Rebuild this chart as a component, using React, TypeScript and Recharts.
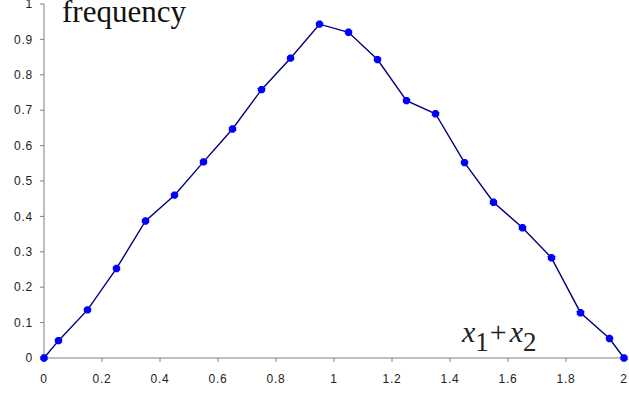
import React from "react";
import { LineChart, Line, XAxis, YAxis } from "recharts";

const sums = [0, 0.05, 0.15, 0.25, 0.35, 0.45, 0.55, 0.65, 0.75, 0.85, 0.95, 1.05, 1.15, 1.25, 1.35, 1.45, 1.55, 1.65, 1.75, 1.85, 1.95, 2];
const frequency = [0, 0.049, 0.136, 0.253, 0.387, 0.46, 0.554, 0.647, 0.758, 0.847, 0.943, 0.92, 0.843, 0.727, 0.69, 0.552, 0.44, 0.368, 0.283, 0.128, 0.055, 0];
const xTicks = [0, 0.2, 0.4, 0.6, 0.8, 1, 1.2, 1.4, 1.6, 1.8, 2];
const yTicks = [0, 0.1, 0.2, 0.3, 0.4, 0.5, 0.6, 0.7, 0.8, 0.9, 1];

const data = sums.map((s, i) => ({ s, f: frequency[i] }));

const tickStyle = { fill: "#222", fontSize: 12, fontFamily: "Liberation Sans, Arial, sans-serif", letterSpacing: 0.8 };

const Marker = (props: any) => {
  const { cx, cy, index } = props;
  if (cx == null || cy == null) return null;
  const r = 4;
  const pts: string[] = [];
  for (let k = 0; k < 8; k++) {
    const a = (Math.PI / 8) + (k * Math.PI) / 4;
    pts.push(`${cx + r * Math.cos(a)},${cy + r * Math.sin(a)}`);
  }
  return <polygon key={index} points={pts.join(" ")} fill="#0000ff" stroke="none" />;
};

export default function App() {
  return (
    <div style={{ position: "absolute", left: 0, top: 0, width: 629, height: 396, background: "#fff" }}>
      <LineChart width={629} height={396} data={data} margin={{ top: 4, right: 5, bottom: 8, left: 0 }}>
        <XAxis
          dataKey="s"
          type="number"
          domain={[0, 2]}
          ticks={xTicks}
          tickFormatter={(v) => String(v)}
          stroke="#808080"
          tickSize={4}
          tickMargin={12}
          height={30}
          tick={tickStyle}
          interval={0}
        />
        <YAxis
          type="number"
          domain={[0, 1]}
          ticks={yTicks}
          tickFormatter={(v) => String(v)}
          stroke="#808080"
          tickSize={4}
          tickMargin={7}
          width={44}
          tick={tickStyle}
          interval={0}
        />
        <Line
          dataKey="f"
          stroke="#000080"
          strokeWidth={1.4}
          dot={<Marker />}
          activeDot={false}
          isAnimationActive={false}
        />
      </LineChart>
      <svg width={629} height={396} style={{ position: "absolute", left: 0, top: 0, pointerEvents: "none" }}>
        <text x={62} y={22} fontSize={31} fontFamily="Liberation Serif, serif" fill="#111">
          frequency
        </text>
        <text x={462} y={342} fontSize={30} fontFamily="Liberation Serif, serif" fill="#222">
          <tspan fontStyle="italic">x</tspan>
          <tspan dy={9} fontSize={27}>1</tspan>
          <tspan dy={-9} dx={1}>+</tspan>
          <tspan dx={3} fontStyle="italic">x</tspan>
          <tspan dy={9} fontSize={27}>2</tspan>
        </text>
      </svg>
    </div>
  );
}
